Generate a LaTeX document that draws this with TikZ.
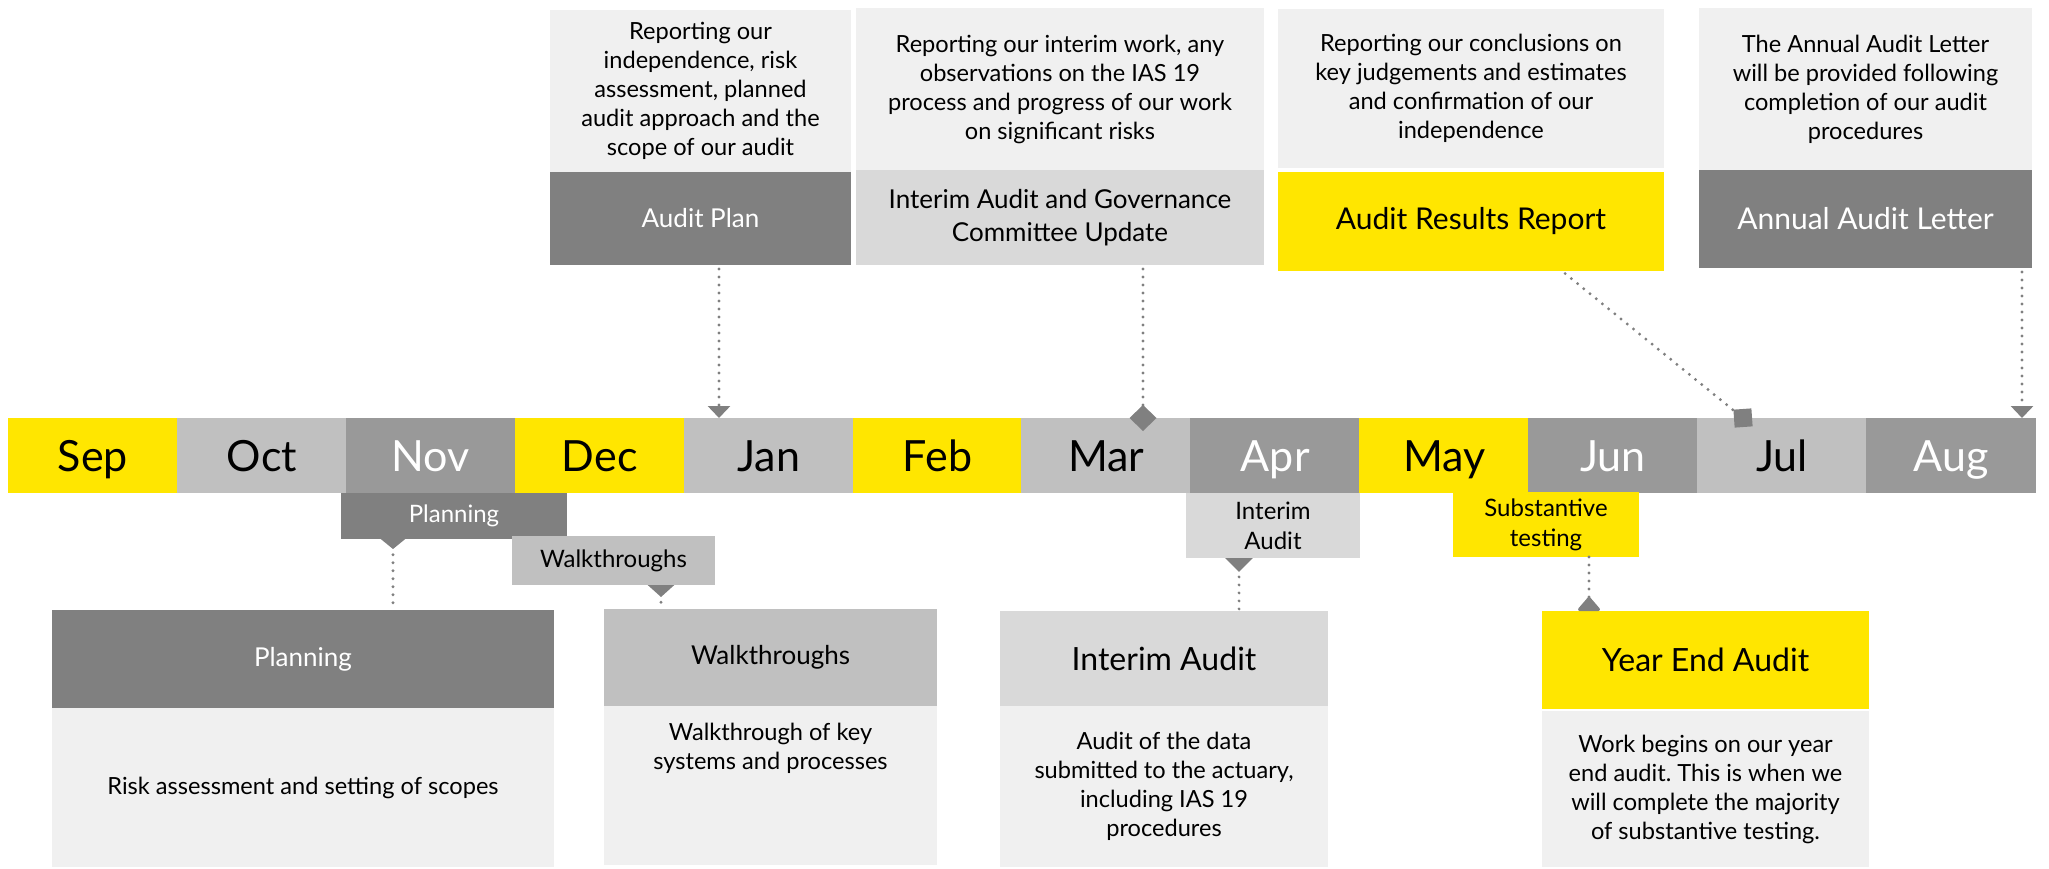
\documentclass[tikz,border=0pt]{standalone}
\usepackage{fontspec}
\setmainfont{Lato}
\usepackage{tikz}
\usetikzlibrary{arrows.meta}

\definecolor{eyyellow}{HTML}{FFE600}
\definecolor{eymid}{HTML}{999999}
\definecolor{eylight}{HTML}{C0C0C0}
\definecolor{eypale}{HTML}{D9D9D9}
\definecolor{eydark}{HTML}{808080}
\definecolor{eydesc}{HTML}{F0F0F0}

\frenchspacing
\begin{document}
\begin{tikzpicture}[%
  x=0.5pt, y=-0.5pt,
  box/.style 2 args={anchor=north west, inner sep=0pt, outer sep=0pt, align=center,
    minimum width=#1*0.5pt, minimum height=#2*0.5pt},
  month/.style={box={170}{75}, text height=20pt, text depth=4.5pt, font=\fontsize{21.5}{24}\selectfont},
  desc/.style={fill=eydesc, font=\fontsize{11.8}{14.5}\selectfont},
  tag/.style={font=\fontsize{12}{15}\selectfont},
  head/.style={font=\fontsize{13}{16.5}\selectfont},
  bighead/.style={font=\fontsize{15}{18}\selectfont},
  link/.style={draw=eydark, line width=1.6pt, line cap=round, dash pattern=on 0pt off 4pt}]

  \useasboundingbox (0,0) rectangle (2049,868);

  \foreach \mname/\mtext/\mfill/\mcol [count=\i from 0] in {%
    sep/Sep/eyyellow/black, oct/Oct/eylight/black, nov/Nov/eymid/white,
    dec/Dec/eyyellow/black, jan/Jan/eylight/black, feb/Feb/eyyellow/black,
    mar/Mar/eylight/black, apr/Apr/eymid/white, may/May/eyyellow/black,
    jun/Jun/eymid/white, jul/Jul/eylight/black, aug/Aug/eymid/white}
    \node[month, fill=\mfill, text=\mcol] (\mname) at ({8+168.9*\i},418) {\mtext};

  \node[box={301}{162}, desc] (apD) at (550,10)
    {Reporting our\\independence, risk\\assessment, planned\\audit approach and the\\scope of our audit};
  \node[box={301}{93}, fill=eydark, text=white, head] (apT) at (550,172) {Audit Plan};
  \node[box={408}{162}, desc] (iacD) at (856,8)
    {Reporting our interim work, any\\observations on the IAS 19\\process and progress of our work\\on significant risks};
  \node[box={408}{95}, fill=eypale, head] (iacT) at (856,170) {Interim Audit and Governance\\Committee Update};
  \node[box={386}{159}, desc] (arD) at (1278,9)
    {Reporting our conclusions on\\key judgements and estimates\\and confirmation of our\\independence};
  \node[box={386}{99}, fill=eyyellow, bighead] (arT) at (1278,172) {Audit Results Report};
  \node[box={333}{162}, desc] (alD) at (1699,8)
    {The Annual Audit Letter\\will be provided following\\completion of our audit\\procedures};
  \node[box={333}{98}, fill=eydark, text=white, bighead] (alT) at (1699,170) {Annual Audit Letter};

  \node[box={226}{46}, fill=eydark, text=white, tag] (plS) at (341,493) {Planning};
  \node[box={203}{49}, fill=eylight, tag] (wtS) at (512,536) {Walkthroughs};
  \node[box={174}{65}, fill=eypale, tag] (iaS) at (1186,493) {Interim\\Audit};
  \node[box={186}{65}, fill=eyyellow, tag] (stS) at (1453,492) {Substantive\\testing};

  \node[box={502}{98}, fill=eydark, text=white, head] (plB) at (52,610) {Planning};
  \node[box={502}{159}, desc] (plD) at (52,708) {Risk assessment and setting of scopes};
  \node[box={333}{97}, fill=eylight, head] (wtB) at (604,609) {Walkthroughs};
  \node[box={333}{159}, desc] (wtD) at (604,706)
    {\parbox[c][79.5pt][t]{166pt}{\centering\vspace*{8.5pt}Walkthrough of key\\systems and processes}};
  \node[box={328}{95}, fill=eypale, font=\fontsize{16}{19}\selectfont] (iaB) at (1000,611) {Interim Audit};
  \node[box={328}{161}, desc] (iaD) at (1000,706)
    {Audit of the data\\submitted to the actuary,\\including IAS 19\\procedures};
  \node[box={327}{98}, fill=eyyellow, font=\fontsize{16}{19}\selectfont] (yeB) at (1542,611) {Year End Audit};
  \node[box={327}{156}, desc] (yeD) at (1542,711)
    {Work begins on our year\\end audit. This is when we\\will complete the majority\\of substantive testing.};

  \node[fill=eydark, minimum size=9pt, inner sep=0pt, rotate=4] (julMark) at (1743,418) {};

  \draw[link, shorten <=2pt, -{Triangle[width=11pt, length=6pt]}] (apT.south -| 719,0) -- (jan.north -| 719,0);
  \draw[link, shorten <=2pt, -{Diamond[width=13.5pt, length=13pt]}, shorten >=-6.5pt] (iacT.south -| 1143,0) -- (mar.north -| 1143,0);
  \draw[link, shorten <=2pt] (arT.south -| 1562,0) -- (julMark);
  \draw[link, shorten <=2pt, -{Triangle[width=11pt, length=6pt]}] (alT.south -| 2022,0) -- (aug.north -| 2022,0);

  \draw[link, {Triangle[reversed, width=12pt, length=5pt]}-] (plS.south -| 393,0) -- (plB.north -| 393,0);
  \draw[link, {Triangle[reversed, width=13pt, length=6pt]}-] (wtS.south -| 661,0) -- (wtB.north -| 661,0);
  \draw[link, {Triangle[reversed, width=13.5pt, length=7pt]}-] (iaS.south -| 1239,0) -- (iaB.north -| 1239,0);
  \draw[link, -{Triangle[reversed, round, width=12.5pt, length=7.5pt]}] (stS.south -| 1589,0) -- (yeB.north -| 1589,0);
\end{tikzpicture}
\end{document}
